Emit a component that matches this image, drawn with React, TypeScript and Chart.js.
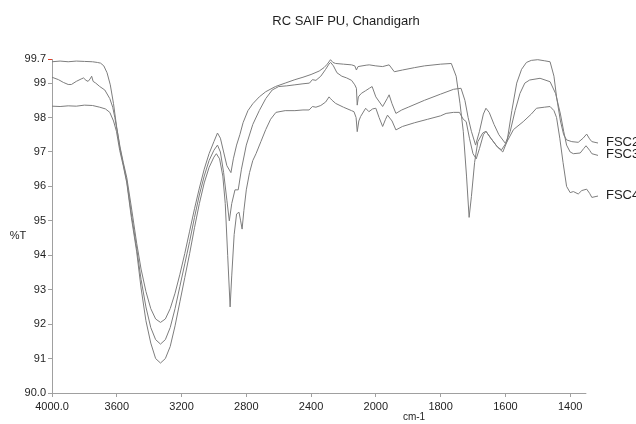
import React, { useEffect, useRef } from 'react';
import { Chart, registerables, LinearScale } from 'chart.js';

Chart.register(...registerables);

const TITLE = 'RC SAIF PU, Chandigarh';
const Y_LABEL = '%T';
const X_LABEL = 'cm-1';
const X_TICKS = [4000, 3600, 3200, 2800, 2400, 2000, 1800, 1600, 1400];
const Y_TICKS = [90, 91, 92, 93, 94, 95, 96, 97, 98, 99, 99.7];
const X_MAX = 4000;
const X_MIN = 1314;
const X_BREAK = 2000;
const X_AXIS_END = 1350;
const Y_MIN = 90;
const Y_MAX = 99.7;

const FSC2_WN = [4000, 3950, 3900, 3850, 3800, 3750, 3720, 3700, 3680, 3660,
  3640, 3620, 3600, 3580, 3560, 3538, 3510, 3477, 3450, 3420,
  3390, 3360, 3330, 3300, 3270, 3240, 3210, 3180, 3150, 3120,
  3090, 3060, 3030, 3000, 2978, 2960, 2940, 2920, 2895, 2880,
  2860, 2840, 2820, 2790, 2760, 2720, 2680, 2620, 2560, 2500,
  2450, 2400, 2350, 2320, 2300, 2280, 2265, 2248, 2200, 2150,
  2130, 2120, 2110, 2060, 2041, 2000, 1979, 1959, 1943, 1918,
  1880, 1850, 1800, 1767, 1752, 1740, 1730, 1720, 1712, 1705,
  1695, 1685, 1670, 1660, 1645, 1625, 1608, 1595, 1580, 1565,
  1550, 1535, 1520, 1500, 1480, 1462, 1450, 1442, 1430, 1420,
  1411, 1395, 1375, 1360, 1349, 1340, 1333, 1314];
const FSC2_T = [99.62, 99.64, 99.62, 99.64, 99.63, 99.62, 99.6, 99.58, 99.5, 99.3,
  98.95, 98.4, 97.7, 97.15, 96.7, 96.25, 95.4, 94.35, 93.6, 92.95,
  92.45, 92.15, 92.05, 92.15, 92.45, 92.9, 93.45, 94.05, 94.7, 95.35,
  95.95, 96.5, 96.95, 97.3, 97.55, 97.4, 97.0, 96.6, 96.4, 96.8,
  97.2, 97.5, 97.85, 98.2, 98.4, 98.6, 98.75, 98.9, 99.0, 99.1,
  99.17, 99.25, 99.35, 99.45, 99.55, 99.68, 99.6, 99.57, 99.55, 99.53,
  99.5, 99.38, 99.48, 99.52, 99.53, 99.5, 99.48, 99.53, 99.33, 99.38,
  99.45, 99.5, 99.55, 99.57, 99.2, 98.4, 97.6, 96.3, 95.1, 95.7,
  96.7, 97.3, 97.55, 97.6, 97.4, 97.15, 97.0, 97.3, 98.2, 99.0,
  99.4, 99.6, 99.66, 99.68, 99.65, 99.62, 99.2, 98.6, 97.9, 97.5,
  97.35, 97.3, 97.28, 97.4, 97.52, 97.38, 97.3, 97.26];

const FSC3_WN = [4000, 3960, 3930, 3900, 3880, 3850, 3820, 3805, 3790, 3777,
  3765, 3755, 3746, 3730, 3705, 3674, 3643, 3625, 3612, 3595,
  3580, 3560, 3538, 3510, 3477, 3450, 3420, 3390, 3360, 3330,
  3300, 3270, 3240, 3210, 3180, 3150, 3120, 3090, 3060, 3030,
  3000, 2978, 2960, 2940, 2920, 2905, 2890, 2870, 2850, 2830,
  2800, 2760, 2720, 2680, 2640, 2600, 2550, 2500, 2450, 2410,
  2392, 2370, 2340, 2310, 2290, 2279, 2262, 2240, 2210, 2180,
  2150, 2130, 2120, 2115, 2108, 2090, 2063, 2040, 2023, 2000,
  1979, 1965, 1959, 1950, 1938, 1920, 1900, 1850, 1800, 1760,
  1737, 1725, 1715, 1705, 1692, 1680, 1668, 1660, 1650, 1635,
  1620, 1600, 1585, 1570, 1555, 1540, 1525, 1493, 1462, 1445,
  1430, 1420, 1411, 1400, 1390, 1369, 1358, 1351, 1340, 1333,
  1314];
const FSC3_T = [99.17, 99.1, 99.02, 98.96, 98.96, 99.05, 99.12, 99.15, 99.08, 99.05,
  99.12, 99.2, 99.05, 99.0, 98.9, 98.8, 98.55, 98.3, 98.0, 97.55,
  97.1, 96.65, 96.15, 95.2, 94.2, 93.3, 92.5, 91.9, 91.55, 91.42,
  91.55, 91.9, 92.45, 93.1, 93.75, 94.4, 95.1, 95.75, 96.3, 96.75,
  97.05, 97.2, 97.0, 96.4, 95.6, 95.0, 95.5, 95.9, 95.9, 96.5,
  97.2, 97.8, 98.2, 98.55, 98.8, 98.9, 98.92, 98.95, 98.98, 99.0,
  99.1, 99.08, 99.2, 99.4, 99.55, 99.6, 99.5, 99.3, 99.2, 99.15,
  99.08, 98.95, 98.85, 98.36, 98.6, 98.7, 98.78, 98.85, 98.9, 98.6,
  98.32, 98.55, 98.66, 98.4, 98.12, 98.22, 98.3, 98.5, 98.68, 98.82,
  98.85, 98.5, 98.0, 97.6, 97.2, 97.6, 98.1, 98.27, 98.15, 97.8,
  97.5, 97.25, 97.6, 98.2, 98.7, 99.0, 99.09, 99.14, 99.04, 98.7,
  98.1, 97.6, 97.2, 97.0, 96.95, 96.97, 97.1, 97.18, 97.05, 96.95,
  96.9];

const FSC4_WN = [4000, 3950, 3900, 3850, 3800, 3750, 3705, 3670, 3643, 3620,
  3602, 3582, 3560, 3538, 3510, 3477, 3450, 3420, 3390, 3360,
  3330, 3300, 3270, 3240, 3210, 3180, 3150, 3120, 3090, 3060,
  3030, 3000, 2985, 2965, 2945, 2930, 2915, 2900, 2890, 2875,
  2860, 2845, 2835, 2826, 2815, 2800, 2780, 2760, 2740, 2710,
  2680, 2650, 2617, 2560, 2500, 2450, 2412, 2392, 2370, 2340,
  2310, 2289, 2280, 2270, 2248, 2200, 2150, 2135, 2122, 2115,
  2105, 2094, 2063, 2043, 2020, 2000, 1990, 1979, 1970, 1964,
  1950, 1938, 1918, 1880, 1840, 1800, 1783, 1760, 1742, 1730,
  1721, 1711, 1700, 1690, 1680, 1668, 1660, 1645, 1625, 1612,
  1595, 1575, 1545, 1520, 1504, 1480, 1462, 1450, 1442, 1432,
  1422, 1411, 1400, 1390, 1375, 1364, 1349, 1340, 1333, 1314];
const FSC4_T = [98.33, 98.32, 98.34, 98.33, 98.36, 98.35, 98.3, 98.25, 98.15, 97.9,
  97.6, 97.05, 96.6, 96.1, 95.1, 94.1, 93.05, 92.1, 91.45, 91.0,
  90.87, 91.0, 91.35, 91.95, 92.65, 93.35, 94.05, 94.8, 95.5, 96.1,
  96.55, 96.85, 96.95, 96.8, 96.3, 95.5, 94.0, 92.5, 93.4, 94.6,
  95.2, 95.25, 95.0, 94.76, 95.3, 95.9, 96.4, 96.75, 96.95, 97.3,
  97.65, 97.95, 98.15, 98.2, 98.2, 98.22, 98.22, 98.32, 98.3, 98.35,
  98.45, 98.6, 98.55, 98.5, 98.41, 98.3, 98.2, 98.17, 98.0, 97.59,
  97.9, 98.03, 98.27, 98.17, 98.25, 98.27, 98.0, 97.74, 97.95, 98.07,
  97.9, 97.64, 97.74, 97.85, 97.95, 98.05, 98.12, 98.15, 98.15, 97.95,
  97.88, 97.4, 96.95, 96.8, 97.1, 97.5, 97.6, 97.4, 97.15, 97.06,
  97.3, 97.65, 97.88, 98.1, 98.27, 98.3, 98.32, 98.2, 98.0, 97.4,
  96.7, 96.0, 95.82, 95.85, 95.78, 95.88, 95.92, 95.8, 95.68, 95.72];

const SERIES = [
  { label: 'FSC2', wn: FSC2_WN, t: FSC2_T },
  { label: 'FSC3', wn: FSC3_WN, t: FSC3_T },
  { label: 'FSC4', wn: FSC4_WN, t: FSC4_T },
];

const FONT_FAMILY = 'Arial, "Liberation Sans", Helvetica, sans-serif';
const LINE_COLOR = '#7d7d7d';
const AXIS_COLOR = '#a0a0a0';
const TEXT_COLOR = '#1e1e1e';

// Split wavenumber axis: 400 cm-1 per division above 2000, 200 cm-1 per division below.
function splitUnits(w: number): number {
  return w >= X_BREAK
    ? (X_MAX - w) / 400
    : (X_MAX - X_BREAK) / 400 + (X_BREAK - w) / 200;
}
function unitsToWn(u: number): number {
  const uB = (X_MAX - X_BREAK) / 400;
  return u <= uB ? X_MAX - u * 400 : X_BREAK - (u - uB) * 200;
}

class SplitWavenumberScale extends LinearScale {
  static id = 'splitWavenumber';
  static defaults = {};
  buildTicks() {
    return X_TICKS.map((value) => ({ value }));
  }
  getPixelForValue(value: any) {
    if (value === null || value === undefined || isNaN(value)) return NaN;
    return (this as any).getPixelForDecimal(splitUnits(value) / splitUnits(X_MIN));
  }
  getValueForPixel(pixel: number) {
    return unitsToWn((this as any).getDecimalForPixel(pixel) * splitUnits(X_MIN));
  }
}
Chart.register(SplitWavenumberScale as any);

const textPlugin = {
  id: 'ftirText',
  afterDraw(chart: any) {
    const ctx = chart.ctx;
    const xs = chart.scales.x;
    const area = chart.chartArea;
    ctx.save();
    ctx.strokeStyle = AXIS_COLOR;
    ctx.lineWidth = 1;
    ctx.beginPath();
    const yb = Math.round(area.bottom) + 0.5;
    ctx.moveTo(xs.getPixelForValue(X_MAX), yb);
    ctx.lineTo(xs.getPixelForValue(X_AXIS_END), yb);
    ctx.stroke();

    ctx.fillStyle = TEXT_COLOR;
    ctx.textBaseline = 'middle';
    ctx.textAlign = 'center';
    ctx.font = `13px ${FONT_FAMILY}`;
    ctx.fillText(TITLE, 346, 21);
    ctx.font = `11px ${FONT_FAMILY}`;
    ctx.fillText(Y_LABEL, 18, 236);
    ctx.font = `10px ${FONT_FAMILY}`;
    ctx.fillText(X_LABEL, 414, 417);

    ctx.font = `13px ${FONT_FAMILY}`;
    ctx.textAlign = 'left';
    chart.data.datasets.forEach((ds: any, i: number) => {
      const meta = chart.getDatasetMeta(i);
      const last = meta.data[meta.data.length - 1];
      if (last) ctx.fillText(ds.label, last.x + 8, last.y - 1);
    });
    ctx.restore();
  },
};

export default function App() {
  const ref = useRef<HTMLCanvasElement | null>(null);
  useEffect(() => {
    if (!ref.current) return;
    const chart = new Chart(ref.current, {
      type: 'line',
      data: {
        datasets: SERIES.map((s) => ({
          label: s.label,
          data: s.wn.map((w, i) => ({ x: w, y: s.t[i] })),
          borderColor: LINE_COLOR,
          borderWidth: 1,
          pointRadius: 0,
          tension: 0,
          fill: false,
        })),
      },
      options: {
        responsive: false,
        animation: false,
        devicePixelRatio: 1,
        events: [],
        layout: { padding: { top: 59, right: 38, left: 0, bottom: 0 } },
        plugins: {
          legend: { display: false },
          title: { display: false },
          tooltip: { enabled: false },
        },
        scales: {
          x: {
            type: 'splitWavenumber' as any,
            min: X_MIN,
            max: X_MAX,
            afterFit: (s: any) => { s.height = 31; },
            border: { display: false },
            grid: {
              display: true,
              drawOnChartArea: false,
              drawTicks: true,
              tickLength: 4,
              tickColor: AXIS_COLOR,
            },
            ticks: {
              autoSkip: false,
              maxRotation: 0,
              padding: 3,
              color: TEXT_COLOR,
              font: { family: FONT_FAMILY, size: 11 },
              callback: (v: any) => (v === 4000 ? '4000.0' : String(v)),
            },
          } as any,
          y: {
            type: 'linear',
            min: Y_MIN,
            max: Y_MAX,
            afterFit: (s: any) => { s.width = 52; },
            afterBuildTicks: (s: any) => { s.ticks = Y_TICKS.map((value) => ({ value })); },
            border: { display: true, color: AXIS_COLOR, width: 1 },
            grid: {
              display: true,
              drawOnChartArea: false,
              drawTicks: true,
              tickLength: 4,
              tickColor: (c: any) => (c.tick && c.tick.value === 99.7 ? '#e2402a' : AXIS_COLOR),
            },
            ticks: {
              padding: 2,
              color: TEXT_COLOR,
              font: { family: FONT_FAMILY, size: 11 },
              callback: (v: any) => (v === 90 ? '90.0' : String(v)),
            },
          },
        },
      },
      plugins: [textPlugin],
    });
    return () => chart.destroy();
  }, []);
  return (
    <div style={{ position: 'absolute', left: 0, top: 0, width: 636, height: 424, background: '#fff' }}>
      <canvas ref={ref} width={636} height={424} style={{ display: 'block' }} />
    </div>
  );
}
